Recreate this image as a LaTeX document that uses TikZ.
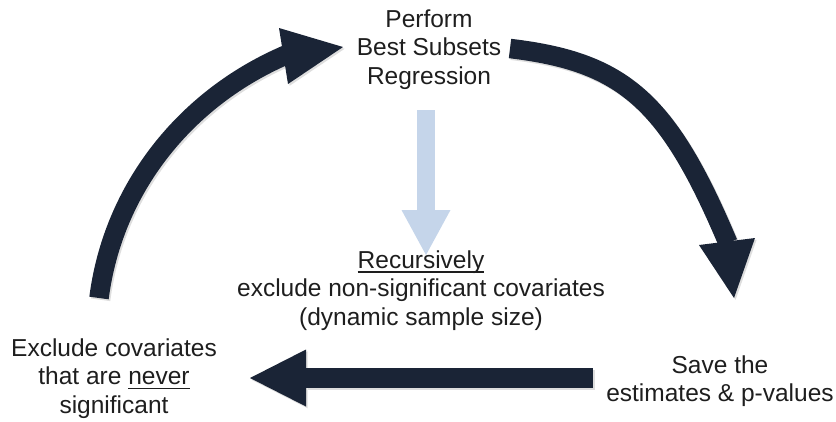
\documentclass[tikz,border=0pt]{standalone}
\usepackage{fontspec}
\setmainfont{Liberation Sans}
\usetikzlibrary{arrows.meta}

\definecolor{navy}{HTML}{1A2436}
\definecolor{paleblue}{HTML}{C5D5EA}
\definecolor{ink}{HTML}{1E1E1E}

% underline placed close to the baseline, independent of descenders
\newcommand\ulword[1]{\setbox0\hbox{#1}\rlap{\rule[-4.5pt]{\wd0}{1.2pt}}\box0}

\begin{document}
\begin{tikzpicture}[x=1pt,y=-1pt,
  label text/.style={font=\fontsize{24.5}{28.5}\selectfont, text=ink,
    align=center, inner sep=0pt, anchor=base},
  shaft/.style={draw=navy, line width=19.5pt},
  head/.style={fill=navy},
  straight arrow/.style={draw=navy, line width=19.5pt,
    -{Triangle[length=56pt,width=57pt,line width=0pt]}},
  shadow line/.style={draw=black!13, line width=19.5pt,
    transform canvas={shift={(1.6pt,-1.8pt)}}},
  shadow head/.style={fill=black!13,
    transform canvas={shift={(1.6pt,-1.8pt)}}},
  down arrow/.style={draw=paleblue, line width=18pt,
    -{Triangle[length=45pt,width=49pt,line width=0pt]}},
]
\useasboundingbox (0,0) rectangle (836,421);

% step labels (positioned by the baseline of their last line)
\node[label text] (bss)  at (429,84)  {Perform\\Best Subsets\\Regression};
\node[label text] (rec)  at (421,325) {\ulword{Recursively}\\exclude non-significant covariates\\(dynamic sample size)};
\node[label text] (excl) at (114,413) {Exclude covariates\\that are \ulword{never}\\significant};
\node[label text] (save) at (720,401.5) {Save the\\estimates \& p-values};

% left arc: shaft and head
\coordinate (lftA)  at (99,298);
\coordinate (lftB)  at (287,54.5);
\coordinate (lftH1) at (279,28);
\coordinate (lftH2) at (288,84);
\coordinate (lftT)  at (343,47);
% right arc: shaft and head
\coordinate (rgtA)  at (510,48.5);
\coordinate (rgtB)  at (728,243);
\coordinate (rgtH1) at (699,245);
\coordinate (rgtH2) at (755,238);
\coordinate (rgtT)  at (734,298);
% bottom straight arrow
\coordinate (botA)  at (593,378);
\coordinate (botB)  at (250,378);
% inner downward arrow
\coordinate (dnA)   at (426,110);
\coordinate (dnB)   at (426,255);

% soft shadows
\draw[shadow line] (lftA) .. controls (113,189) and (185,98) .. (lftB);
\fill[shadow head] (lftH1) -- (lftT) -- (lftH2) -- cycle;
\draw[shadow line] (rgtA) .. controls (624,62) and (668,101) .. (rgtB);
\fill[shadow head] (rgtH1) -- (rgtT) -- (rgtH2) -- cycle;
\draw[shadow line, -{Triangle[length=56pt,width=57pt,line width=0pt]}] (botA) -- (botB);

% cycle arrows
\draw[shaft] (lftA) .. controls (113,189) and (185,98) .. (lftB);
\fill[head] (lftH1) -- (lftT) -- (lftH2) -- cycle;
\draw[shaft] (rgtA) .. controls (624,62) and (668,101) .. (rgtB);
\fill[head] (rgtH1) -- (rgtT) -- (rgtH2) -- cycle;
\draw[straight arrow] (botA) -- (botB);

% inner downward arrow
\draw[down arrow] (dnA) -- (dnB);
\end{tikzpicture}
\end{document}
